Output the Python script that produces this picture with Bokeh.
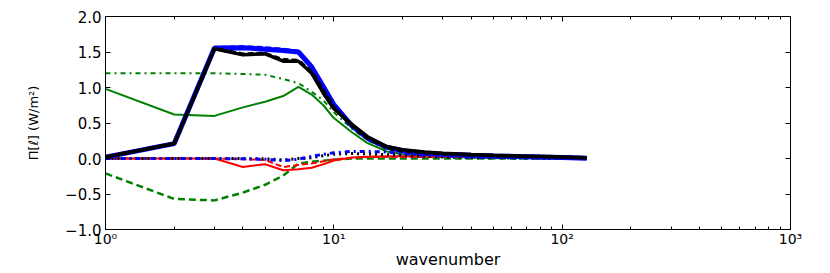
from bokeh.plotting import figure
from bokeh.models import Range1d, LogAxis, LinearAxis, FixedTicker, CustomJSTickFormatter
from bokeh.embed import file_html
from bokeh.resources import INLINE

# wavenumbers
k = [1, 2, 3, 4, 5, 6, 7, 8, 9, 10, 12, 14, 17, 20, 25, 30, 40, 50, 64, 80, 100, 128]

blue_solid = [0.02, 0.21, 1.555, 1.56, 1.54, 1.52, 1.50, 1.29, 1.01, 0.76, 0.46, 0.29, 0.16, 0.11, 0.075, 0.06, 0.045, 0.035, 0.028, 0.02, 0.015, 0.005]
blue_dashed = [0.02, 0.21, 1.56, 1.575, 1.56, 1.54, 1.51, 1.30, 1.02, 0.77, 0.46, 0.29, 0.16, 0.11, 0.075, 0.06, 0.045, 0.035, 0.028, 0.02, 0.015, 0.005]
black_solid = [0.02, 0.21, 1.545, 1.46, 1.475, 1.37, 1.37, 1.20, 0.92, 0.70, 0.48, 0.31, 0.17, 0.125, 0.09, 0.075, 0.055, 0.045, 0.035, 0.03, 0.02, 0.01]
black_dashed = [0.02, 0.21, 1.55, 1.47, 1.48, 1.39, 1.38, 1.22, 0.96, 0.72, 0.46, 0.29, 0.15, 0.11, 0.08, 0.065, 0.05, 0.04, 0.03, 0.025, 0.02, 0.01]
green_solid = [0.98, 0.62, 0.60, 0.72, 0.80, 0.88, 1.01, 0.90, 0.75, 0.57, 0.37, 0.22, 0.10, 0.06, 0.035, 0.025, 0.015, 0.01, 0.008, 0.005, 0.003, 0.0]
green_dashdot = [1.20, 1.20, 1.20, 1.19, 1.18, 1.12, 1.06, 0.94, 0.82, 0.65, 0.42, 0.26, 0.13, 0.08, 0.045, 0.03, 0.02, 0.012, 0.008, 0.005, 0.003, 0.0]
green_dashed = [-0.21, -0.57, -0.59, -0.48, -0.37, -0.24, -0.07, -0.045, -0.03, -0.015, 0.0, 0.0, 0.0, 0.0, 0.0, 0.0, 0.0, 0.0, 0.0, 0.0, 0.0, 0.0]
red_solid = [0.0, 0.0, 0.0, -0.12, -0.08, -0.165, -0.15, -0.13, -0.08, -0.03, 0.015, 0.025, 0.03, 0.03, 0.03, 0.03, 0.03, 0.03, 0.025, 0.02, 0.015, 0.01]
red_dashed = [0.0, 0.0, 0.0, -0.01, -0.02, -0.12, -0.09, -0.07, -0.04, -0.01, 0.01, 0.02, 0.02, 0.02, 0.02, 0.02, 0.02, 0.02, 0.02, 0.015, 0.01, 0.005]
blue_dashdot = [0.0, 0.0, 0.0, -0.005, -0.01, -0.03, -0.01, 0.03, 0.06, 0.08, 0.10, 0.10, 0.09, 0.07, 0.045, 0.035, 0.02, 0.015, 0.01, 0.008, 0.005, 0.0]
black_dotted = [0.0, 0.0, 0.0, 0.0, -0.005, -0.02, 0.0, 0.01, 0.04, 0.06, 0.07, 0.065, 0.055, 0.04, 0.03, 0.02, 0.015, 0.01, 0.008, 0.005, 0.003, 0.0]

x_major = [1, 10, 100, 1000]
x_minor = [2, 3, 4, 5, 6, 7, 8, 9, 20, 30, 40, 50, 60, 70, 80, 90, 200, 300, 400, 500, 600, 700, 800, 900]
y_major = [-1.0, -0.5, 0.0, 0.5, 1.0, 1.5, 2.0]
x_labels = {1: "10\u2070", 10: "10\u00b9", 100: "10\u00b2", 1000: "10\u00b3"}

FONT = "DejaVu Sans"

p = figure(width=814, height=271, x_axis_type="log", output_backend="svg",
           toolbar_location=None, x_range=Range1d(1, 1000), y_range=Range1d(-1.0, 2.0),
           min_border_left=105, min_border_right=24, min_border_top=16, min_border_bottom=30)
p.background_fill_color = "white"
p.border_fill_color = "white"
p.outline_line_color = "black"
p.outline_line_width = 1
p.grid.visible = False

yfmt = CustomJSTickFormatter(code="return (tick < 0 ? '\u2212' : '') + Math.abs(tick).toFixed(1);")

xa = p.xaxis[0]
xa.ticker = FixedTicker(ticks=x_major, minor_ticks=x_minor)
xa.major_label_overrides = x_labels
ya = p.yaxis[0]
ya.ticker = FixedTicker(ticks=y_major)
ya.formatter = yfmt

for ax in (xa, ya):
    ax.major_tick_in = 5
    ax.major_tick_out = 0
    ax.minor_tick_in = 3
    ax.minor_tick_out = 0
    ax.axis_line_color = "black"
    ax.major_label_text_font = FONT
    ax.major_label_text_font_size = "15px"
    ax.major_label_text_color = "black"
    ax.axis_label_text_font = FONT
    ax.axis_label_text_font_style = "normal"
    ax.axis_label_text_color = "black"

xa.major_label_standoff = 1
xa.major_label_text_font_size = "14px"
ya.major_label_standoff = 4
xa.axis_label = "wavenumber"
xa.axis_label_text_font_size = "16px"
xa.axis_label_standoff = 0
ya.axis_label = "\u03a0[\u2113] (W/m\u00b2)"
ya.axis_label_text_font_size = "13px"
ya.axis_label_standoff = 21
ya.minor_tick_line_color = None

top = LogAxis(ticker=FixedTicker(ticks=x_major, minor_ticks=x_minor),
              major_label_text_font_size="1px", major_label_text_alpha=0, major_label_standoff=0,
              major_tick_in=5, major_tick_out=0, minor_tick_in=3, minor_tick_out=0,
              axis_line_color="black")
right = LinearAxis(ticker=FixedTicker(ticks=y_major),
                   major_label_text_font_size="1px", major_label_text_alpha=0, major_label_standoff=0,
                   major_tick_in=5, major_tick_out=0, minor_tick_line_color=None,
                   axis_line_color="black")
p.add_layout(top, "above")
p.add_layout(right, "right")

p.line(k, green_dashdot, color="green", line_width=2, line_dash="5 4 2 4")
p.line(k, green_solid, color="green", line_width=2)
p.line(k, green_dashed, color="green", line_width=2.5, line_dash="7 4")
p.line(k, red_dashed, color="red", line_width=2, line_dash="6 3")
p.line(k, red_solid, color="red", line_width=2)
p.line(k, black_dotted, color="black", line_width=3, line_dash="2 4")
p.line(k, blue_dashdot, color="blue", line_width=3, line_dash="5 4 2 4")
p.line(k, blue_solid, color="blue", line_width=5)
p.line(k, blue_dashed, color="blue", line_width=3, line_dash="6 3")
p.line(k, black_solid, color="black", line_width=3.5)
p.line(k, black_dashed, color="black", line_width=3.5, line_dash="6 3")

open("out.html", "w").write(file_html(p, INLINE))
